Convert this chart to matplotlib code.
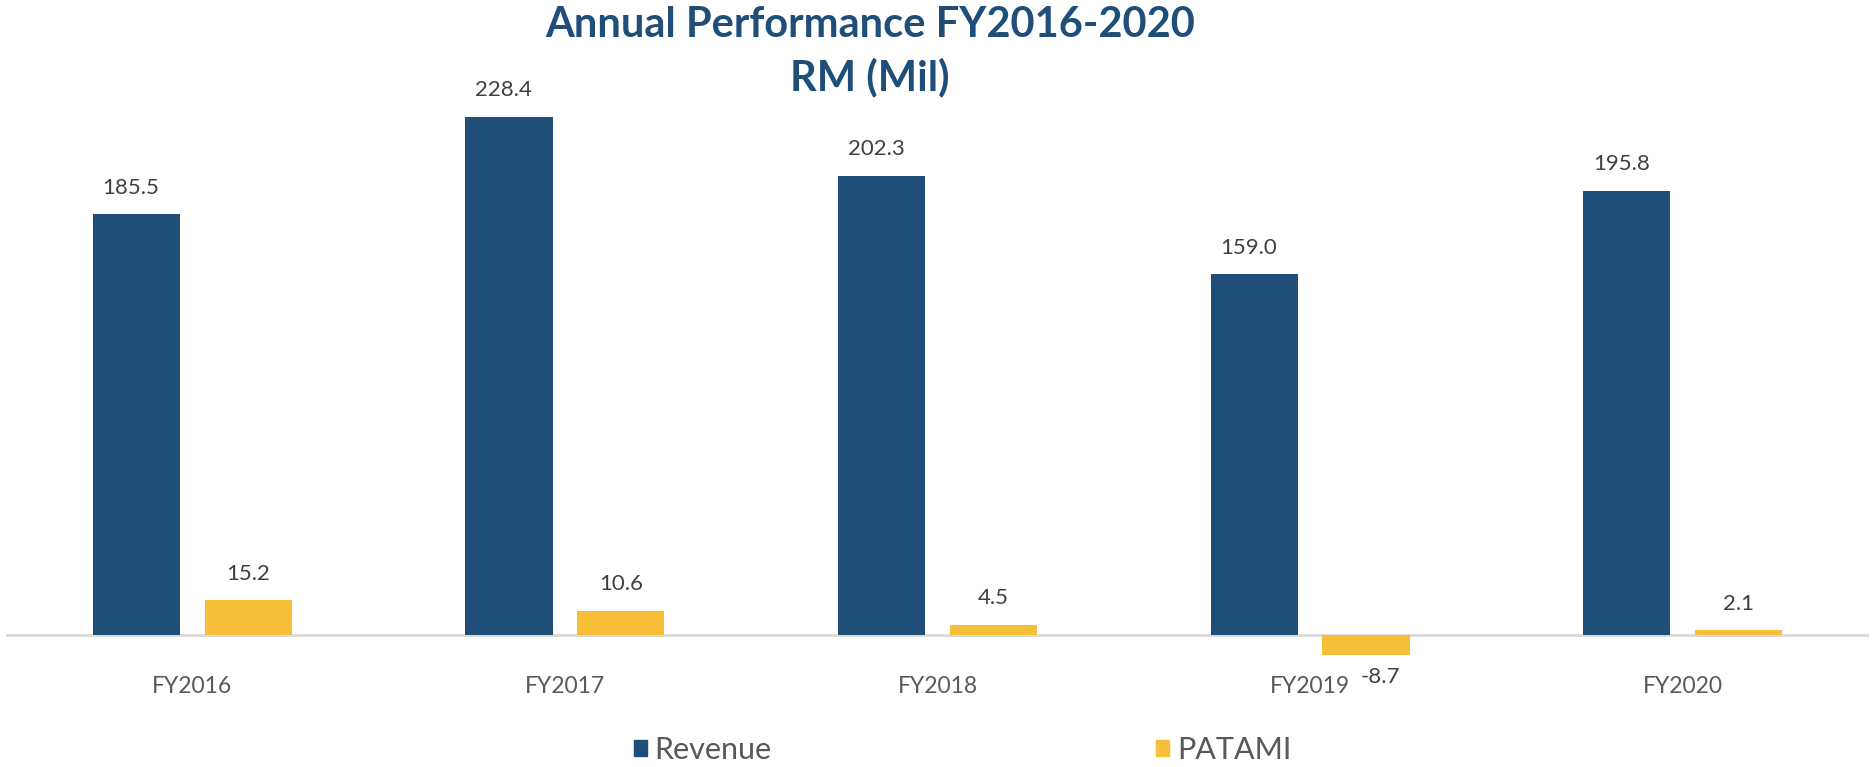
import matplotlib.pyplot as plt
import numpy as np
from matplotlib.patches import Patch

plt.rcParams['font.family'] = ['Lato', 'DejaVu Sans']

years = ["FY2016", "FY2017", "FY2018", "FY2019", "FY2020"]
revenue = [185.5, 228.4, 202.3, 159.0, 195.8]
patami = [15.2, 10.6, 4.5, -8.7, 2.1]

blue = '#1f4e79'
gold = '#f6bf37'

fig = plt.figure(figsize=(18.75, 7.67), dpi=100)
ax = fig.add_axes([0.0032, 0.128, 0.9936, 0.769])

x = np.arange(len(years))
w = 0.234
off = 0.15

ax.bar(x - off, revenue, width=w, color=blue)
ax.bar(x + off, patami, width=w, color=gold)
ax.axhline(0, color='#d9d9d9', lw=2, zorder=0)

# data labels
for xi, v in zip(x - off, revenue):
    ax.annotate(f"{v:.1f}", (xi, v), xytext=(-4, 19), textcoords='offset points',
                ha='center', va='center', fontsize=16, color='#404040')
for xi, v in zip(x + off, patami):
    if v >= 0:
        ax.annotate(f"{v:.1f}", (xi, v), xytext=(0, 19), textcoords='offset points',
                    ha='center', va='center', fontsize=16, color='#404040')
    else:
        ax.annotate(f"{v:.1f}", (xi, v), xytext=(10, -16), textcoords='offset points',
                    ha='center', va='center', fontsize=16, color='#404040')

ax.set_xlim(-0.5, 4.5)
ax.set_ylim(-15, 245)
ax.set_yticks([])
ax.set_xticks(x)
ax.set_xticklabels(years, fontsize=16.5, color='#595959')
ax.tick_params(axis='x', length=0, pad=5)
for s in ax.spines.values():
    s.set_visible(False)

fig.text(0.464, 0.933, "Annual Performance FY2016-2020\nRM (Mil)", ha='center', va='center',
         fontsize=30, fontweight='bold', color=blue, linespacing=1.4)

handles = [Patch(color=blue, label='Revenue'), Patch(color=gold, label='PATAMI')]
leg = fig.legend(handles=handles, loc='center left', bbox_to_anchor=(0.338, 0.022),
                 ncol=2, frameon=False, fontsize=22, handlelength=0.42, handleheight=0.42,
                 handletextpad=0.25, columnspacing=12.6, borderaxespad=0, borderpad=0)
for t in leg.get_texts():
    t.set_color('#595959')

fig.savefig('out.png', dpi=100)
